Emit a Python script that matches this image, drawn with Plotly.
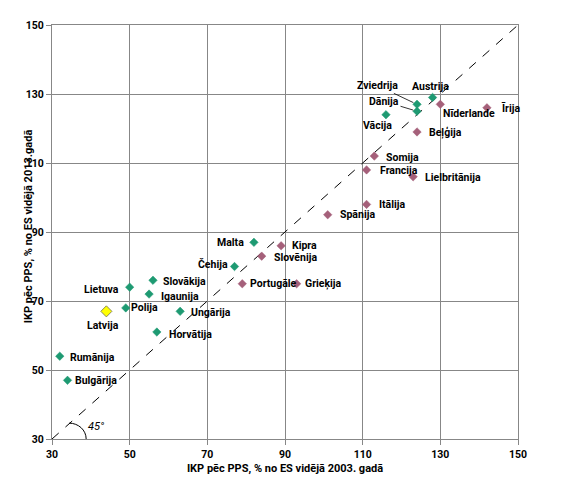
import plotly.graph_objects as go

# ---- data ----
countries = ["Austrija", "Zviedrija", "Dānija", "Vācija", "Nīderlande", "Īrija", "Beļģija",
             "Somija", "Francija", "Lielbritānija", "Itālija", "Spānija", "Malta", "Kipra",
             "Slovēnija", "Čehija", "Portugāle", "Grieķija", "Slovākija", "Lietuva",
             "Igaunija", "Polija", "Latvija", "Ungārija", "Horvātija", "Rumānija", "Bulgārija"]
gdp_2003 = [128, 124, 124, 116, 130, 142, 124, 113, 111, 123, 111, 101, 82, 89,
            84, 77, 79, 93, 56, 50, 55, 49, 44, 63, 57, 32, 34]
gdp_2013 = [129, 127, 125, 124, 127, 126, 119, 112, 108, 106, 98, 95, 87, 86,
            83, 80, 75, 75, 76, 74, 72, 68, 67, 67, 61, 54, 47]
group = ["g", "g", "g", "g", "p", "p", "p", "p", "p", "p", "p", "p", "g", "p",
         "p", "g", "p", "p", "g", "g", "g", "g", "lv", "g", "g", "g", "g"]
tick_vals = [30, 50, 70, 90, 110, 130, 150]
diag = [30, 150]

# ---- styling ----
COL = {"g": "#1e9a72", "p": "#a5607a", "lv": "#ffff00"}
FONT = "Roboto, Liberation Sans, sans-serif"
GRID = "#878787"

# label placement (anchor, xshift, yshift) in pixels relative to marker
label_pos = {
    "Austrija": ("center", -2, 11), "Vācija": ("center", -8, -11),
    "Nīderlande": ("left", 1, -9), "Īrija": ("left", 12, -1),
    "Beļģija": ("left", 10, -1), "Somija": ("left", 10, -1),
    "Francija": ("left", 11, -1), "Lielbritānija": ("left", 10, -1),
    "Itālija": ("left", 10, 0), "Spānija": ("left", 10, 0),
    "Malta": ("right", -8, 0), "Kipra": ("left", 9, 0),
    "Slovēnija": ("left", 10, -1), "Čehija": ("right", -5, 2),
    "Portugāle": ("left", 6, 0), "Grieķija": ("left", 6, 0),
    "Slovākija": ("left", 8, -1), "Lietuva": ("right", -9, -2),
    "Igaunija": ("left", 10, -2), "Polija": ("left", 3, 0),
    "Latvija": ("center", -3, -14), "Ungārija": ("left", 9, -1),
    "Horvātija": ("left", 10, -2), "Rumānija": ("left", 8, -1),
    "Bulgārija": ("left", 5, 0),
}
arrow_pos = {"Zviedrija": (-40, -19), "Dānija": (-33, -10)}

fig = go.Figure()

fig.add_trace(go.Scatter(x=diag, y=diag, mode="lines",
                         line=dict(color="black", width=1, dash="dash"),
                         hoverinfo="skip", showlegend=False))

for key in ["g", "p", "lv"]:
    idx = [i for i, g in enumerate(group) if g == key]
    fig.add_trace(go.Scatter(
        x=[gdp_2003[i] for i in idx], y=[gdp_2013[i] for i in idx],
        text=[countries[i] for i in idx], mode="markers", showlegend=False,
        marker=dict(symbol="diamond", color=COL[key],
                    size=8.5 if key == "lv" else 6.5,
                    line=dict(color="#8a8a5a" if key == "lv" else COL[key],
                              width=1 if key == "lv" else 0.5))))

annotations = []
for c, xv, yv in zip(countries, gdp_2003, gdp_2013):
    if c in label_pos:
        anc, xs, ys = label_pos[c]
        annotations.append(dict(x=xv, y=yv, text=c, showarrow=False, xanchor=anc,
                                yanchor="middle", xshift=xs, yshift=ys,
                                font=dict(family=FONT, size=10.5, color="black", weight="bold")))
    else:
        ax, ay = arrow_pos[c]
        annotations.append(dict(x=xv, y=yv, text=c, showarrow=True, arrowhead=0,
                                arrowwidth=0.8, arrowcolor="black", ax=ax, ay=ay,
                                standoff=4, startstandoff=0,
                                font=dict(family=FONT, size=10.5, color="black", weight="bold")))

annotations.append(dict(x=41.3, y=33.5, text="45°", showarrow=False,
                        font=dict(family=FONT, size=11, color="black", style="italic")))

# y-axis title placed as in the reference (close to the tick labels)
annotations.append(dict(xref="paper", yref="paper", x=0, y=0.514, xshift=-24,
                        text="IKP pēc PPS, % no ES vidējā 2013.gadā", textangle=-90,
                        showarrow=False, xanchor="center", yanchor="middle",
                        font=dict(family=FONT, size=11, color="black", weight="bold")))

fig.add_shape(type="path", xref="x", yref="y",
              path="M 34.4,34.6 C 36.8,34.6 38.8,32.6 38.8,30",
              line=dict(color="black", width=1))

axis_common = dict(range=[30, 150], tickvals=tick_vals, showgrid=True, gridcolor=GRID,
                   gridwidth=1, showline=True, linecolor=GRID, linewidth=1, mirror=True,
                   ticks="outside", ticklen=5, tickcolor=GRID, zeroline=False,
                   tickfont=dict(family=FONT, size=10.5, color="black", weight="bold"))

fig.update_layout(
    width=569, height=491,
    margin=dict(l=52, r=51, t=25, b=52),
    paper_bgcolor="white", plot_bgcolor="white",
    xaxis=dict(**axis_common,
               title=dict(text="IKP pēc PPS, % no ES vidējā 2003. gadā", standoff=4,
                          font=dict(family=FONT, size=11, color="black", weight="bold"))),
    yaxis=dict(**axis_common),
    annotations=annotations,
)

fig.write_html("out.html")
